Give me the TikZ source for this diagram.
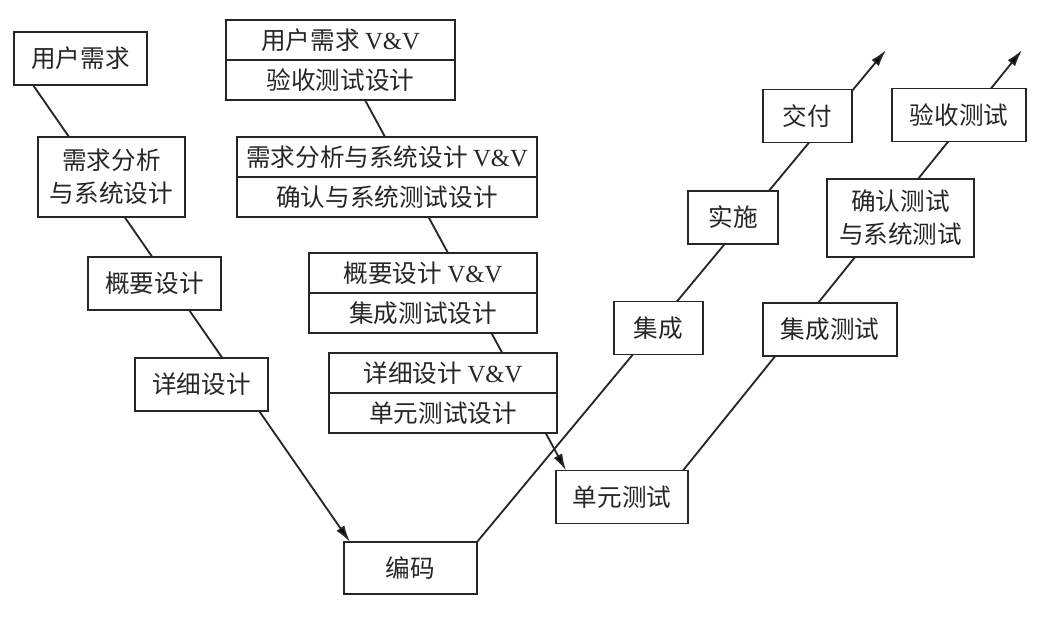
\documentclass[tikz,border=0pt]{standalone}
\usepackage{fontspec}
\setmainfont{Liberation Serif}
\newfontfamily\cjk{Noto Sans CJK SC}
\usepackage{tikz}
\usetikzlibrary{calc,positioning,shapes,backgrounds}
\usetikzlibrary{arrows.meta}
\definecolor{ink}{HTML}{262626}

\begin{document}
\begin{tikzpicture}[color=ink, line width=1.1pt]
\tikzstyle{box} = [draw, fill=white, inner sep=0pt, outer sep=0pt, align=center, minimum height=1.325cm, font=\cjk\fontsize{17.5}{23.5}\selectfont];
\tikzstyle{half} = [box, minimum height=1cm];
\tikzstyle{arr} = [draw=ink, line width=1.3pt, -{Latex[length=4.2mm,width=2.4mm]}];
\useasboundingbox (0,0) rectangle (26.25,-15.675);
% left arm
\node[box, minimum width=3.325cm] (ur) at (2.0125,-1.4625) {用户需求};
\node[box, minimum width=3.675cm, minimum height=2cm] (ra) at (2.7875,-4.425) {需求分析\\与系统设计};
\node[box, minimum width=3.325cm] (hd) at (3.8625,-7.0875) {概要设计};
\node[box, minimum width=3.325cm] (dd) at (5.0375,-9.6125) {详细设计};
\node[box, minimum width=3.325cm, minimum height=1.3cm] (code) at (10.2625,-14.2) {编码};
% V&V boxes
\node[half, minimum width=5.725cm] (vv1a) at (8.5125,-1.0) {用户需求 {\rmfamily V\&V}};
\node[half, minimum width=5.725cm, below=0pt of vv1a] (vv1b) {验收测试设计};
\node[half, minimum width=7.5cm] (vv2a) at (9.675,-3.925) {需求分析与系统设计 {\rmfamily V\&V}};
\node[half, minimum width=7.5cm, below=0pt of vv2a] (vv2b) {确认与系统测试设计};
\node[half, minimum width=5.7cm] (vv3a) at (10.575,-6.825) {概要设计 {\rmfamily V\&V}};
\node[half, minimum width=5.7cm, below=0pt of vv3a] (vv3b) {集成测试设计};
\node[half, minimum width=5.7cm] (vv4a) at (11.075,-9.325) {详细设计 {\rmfamily V\&V}};
\node[half, minimum width=5.7cm, below=0pt of vv4a] (vv4b) {单元测试设计};
% right arms
\node[box, minimum width=3.3cm] (ut) at (15.55,-12.425) {单元测试};
\node[box, minimum width=2.225cm] (ig) at (16.4625,-8.2) {集成};
\node[box, minimum width=2.25cm] (im) at (18.325,-5.4375) {实施};
\node[box, minimum width=2.225cm] (dl) at (20.1875,-2.9) {交付};
\node[box, minimum width=3.35cm] (it) at (20.75,-8.2375) {集成测试};
\node[box, minimum width=3.675cm, minimum height=1.95cm] (st) at (22.5125,-5.45) {确认测试\\与系统测试};
\node[box, minimum width=3.35cm] (at) at (23.975,-2.875) {验收测试};
\coordinate (tip1) at (22.15,-1.25);
\coordinate (tip2) at (25.55,-1.25);
\begin{scope}[on background layer]
\draw[arr] ($(ur.south west)+(0.475,0)$) -- ($(code.north west)+(0.15,0)$);
\draw[arr] ($(vv1b.south west)+(3.475,0)$) -- ($(ut.north west)+(0.25,0)$);
\draw[arr] (code.north east) -- (tip1);
\draw[arr] ($(ut.north east)+(-0.125,0)$) -- (tip2);
\end{scope}
\end{tikzpicture}
\end{document}
